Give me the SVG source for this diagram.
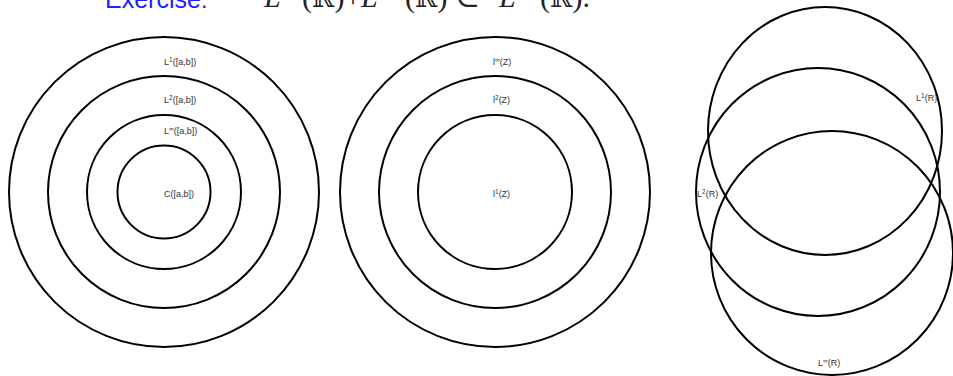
<svg xmlns="http://www.w3.org/2000/svg" width="953" height="376" viewBox="0 0 953 376">
<style>
.c{fill:none;stroke:#000;stroke-width:2}
.l{font-family:"Liberation Sans",Arial,sans-serif;font-size:9px;fill:#333}
.s{font-size:6.5px}
.ex{font-family:"Liberation Sans",Arial,sans-serif;font-size:25px;fill:#1f1fff}
.m{font-family:"Liberation Serif","DejaVu Serif",serif;font-size:30px;fill:#222}
.i{font-style:italic}
.r{font-family:"DejaVu Serif",serif;font-size:27px}
</style>
<rect width="953" height="376" fill="#fff"/>
<g id="title">
<text class="ex" x="105" y="8">Exercise:</text>
<text class="m i" x="264" y="7">L</text>
<text class="m" x="302" y="7">(<tspan class="r">ℝ</tspan>)+</text>
<text class="m i" x="361" y="7">L</text>
<text class="m" x="405" y="7">(<tspan class="r">ℝ</tspan>) ⊂</text>
<text class="m i" x="499" y="7">L</text>
<text class="m" x="540" y="7">(<tspan class="r">ℝ</tspan>).</text>
</g>
<g id="left">
<g id="L1ab"><circle class="c" cx="164" cy="192" r="155"/><text class="l" x="164" y="65">L<tspan class="s" dy="-3.5">1</tspan><tspan dy="3.5">([a,b])</tspan></text></g>
<g id="L2ab"><circle class="c" cx="164" cy="192" r="116"/><text class="l" x="164" y="103">L<tspan class="s" dy="-3.5">2</tspan><tspan dy="3.5">([a,b])</tspan></text></g>
<g id="Linfab"><circle class="c" cx="164" cy="192" r="77"/><text class="l" x="164" y="134">L<tspan class="s" dy="-3.5">∞</tspan><tspan dy="3.5">([a,b])</tspan></text></g>
<g id="Cab"><circle class="c" cx="164" cy="192" r="46.5"/><text class="l" x="164" y="197">C([a,b])</text></g>
</g>
<g id="middle">
<g id="linfZ"><circle class="c" cx="495" cy="192" r="155"/><text class="l" x="493" y="65">l<tspan class="s" dy="-3.5">∞</tspan><tspan dy="3.5">(Z)</tspan></text></g>
<g id="l2Z"><circle class="c" cx="495" cy="192" r="116"/><text class="l" x="493" y="103">l<tspan class="s" dy="-3.5">2</tspan><tspan dy="3.5">(Z)</tspan></text></g>
<g id="l1Z"><circle class="c" cx="495" cy="192" r="77"/><text class="l" x="493" y="197">l<tspan class="s" dy="-3.5">1</tspan><tspan dy="3.5">(Z)</tspan></text></g>
</g>
<g id="right">
<g id="L1R"><ellipse class="c" cx="825" cy="131" rx="117" ry="124"/><text class="l" x="916" y="101">L<tspan class="s" dy="-3.5">1</tspan><tspan dy="3.5">(R)</tspan></text></g>
<g id="L2R"><ellipse class="c" cx="818" cy="192" rx="122" ry="124"/><text class="l" x="697" y="197">L<tspan class="s" dy="-3.5">2</tspan><tspan dy="3.5">(R)</tspan></text></g>
<g id="LinfR"><ellipse class="c" cx="832" cy="253" rx="121" ry="122"/><text class="l" x="818" y="366">L<tspan class="s" dy="-3.5">∞</tspan><tspan dy="3.5">(R)</tspan></text></g>
</g>
<g id="connectors"/>
</svg>
